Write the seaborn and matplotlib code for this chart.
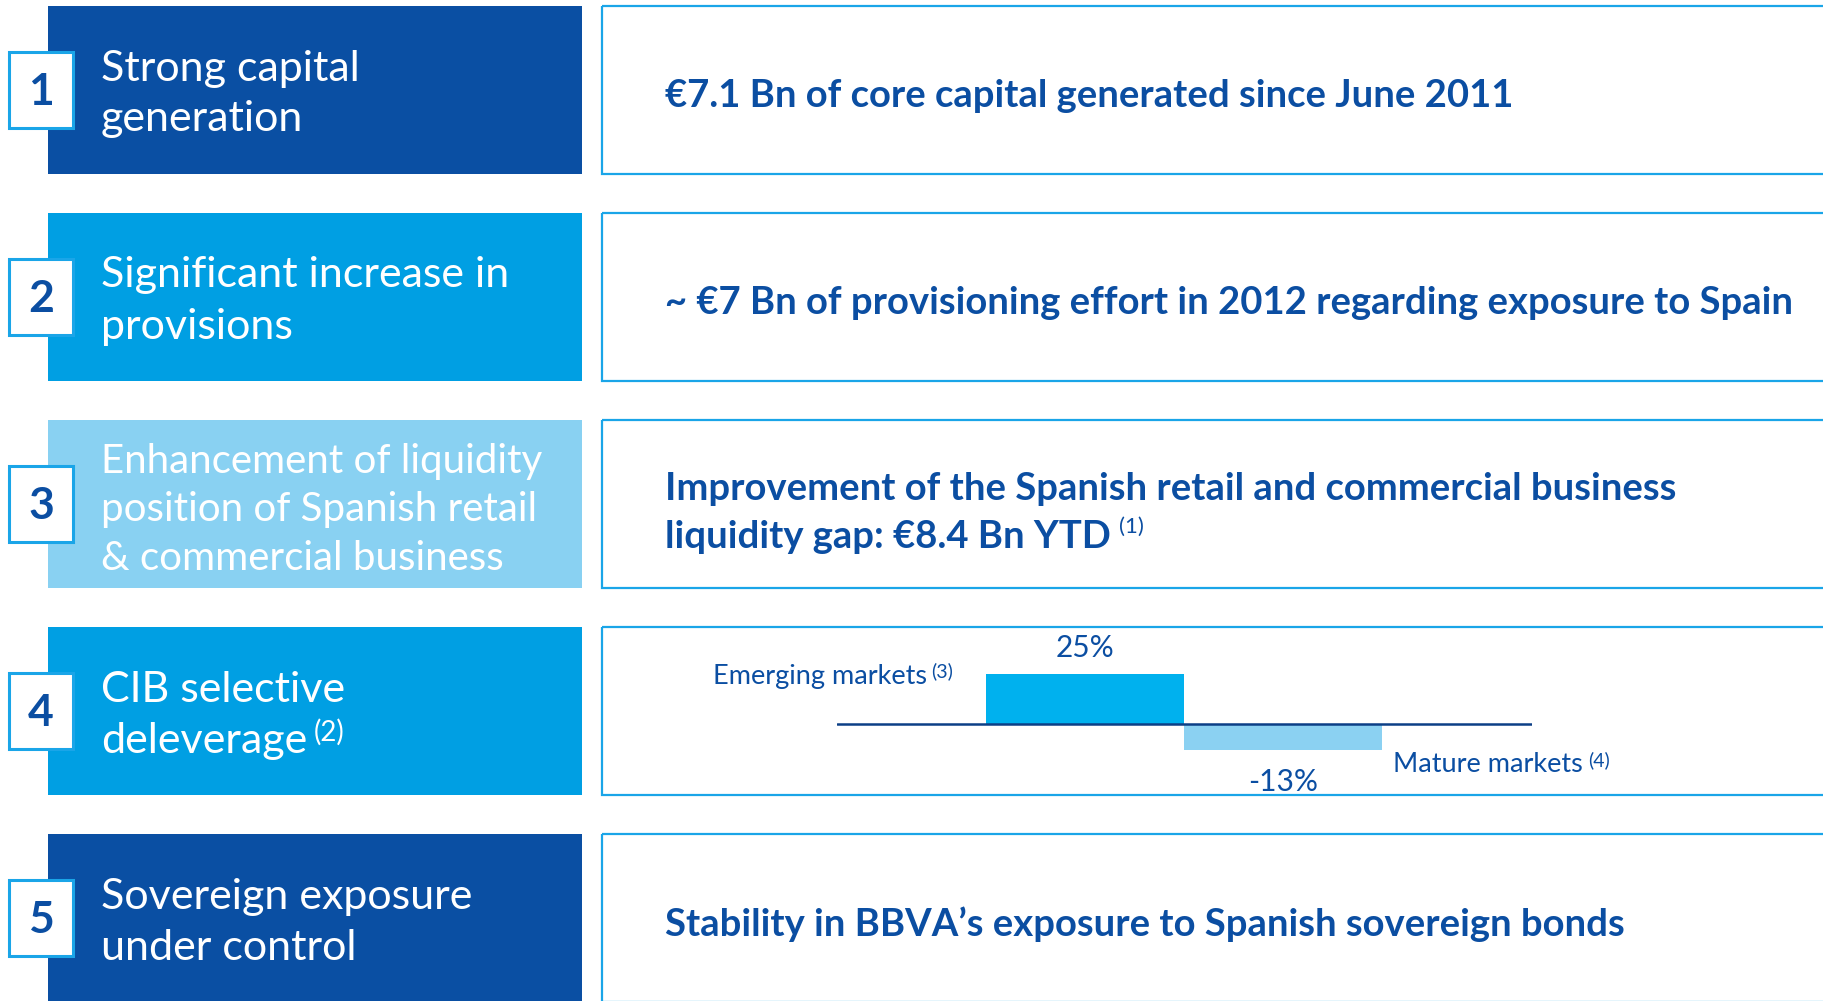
import matplotlib
matplotlib.use("Agg")
import matplotlib.pyplot as plt
from matplotlib.patches import Rectangle
import seaborn as sns

# ---- data ----
numbers = ["1", "2", "3", "4", "5"]
headlines = [
    ["Strong capital", "generation"],
    ["Significant increase in", "provisions"],
    ["Enhancement of liquidity", "position of Spanish retail", "& commercial business"],
    ["CIB selective", "deleverage"],
    ["Sovereign exposure", "under control"],
]
headline_notes = ["", "", "", "(2)", ""]
details = [
    ["€7.1 Bn of core capital generated since June 2011"],
    ["~ €7 Bn of provisioning effort in 2012 regarding exposure to Spain"],
    ["Improvement of the Spanish retail and commercial business",
     "liquidity gap: €8.4 Bn YTD"],
    [],
    ["Stability in BBVA’s exposure to Spanish sovereign bonds"],
]
detail_notes = ["", "", "(1)", "", ""]
markets = ["Emerging markets", "Mature markets"]
market_notes = ["(3)", "(4)"]
growth = [25, -13]

# ---- style ----
sns.set_theme(style="white")
plt.rcParams["font.family"] = ["Lato", "DejaVu Sans"]

navy = "#0B4EA2"
box_colors = ["#0A4FA3", "#009FE3", "#89D1F2", "#009FE3", "#0A4FA3"]
frame_blue = "#1AA5E8"
bar_colors = ["#00B1EE", "#8BD1F2"]

W, H = 1823, 1001
fig = plt.figure(figsize=(W / 100, H / 100), dpi=100)
ax = fig.add_axes([0, 0, 1, 1])
ax.set_xlim(0, W)
ax.set_ylim(H, 0)
ax.axis("off")

pitch, row_h = 207, 168
for i in range(5):
    top = 6 + pitch * i
    mid = top + row_h / 2
    ax.add_patch(Rectangle((48, top), 534, row_h, facecolor=box_colors[i], lw=0))
    ax.add_patch(Rectangle((602, top), 1300, row_h, fill=False,
                           edgecolor=frame_blue, lw=1.6))
    ax.add_patch(Rectangle((9, mid - 38), 64, 76, facecolor="white",
                           edgecolor=frame_blue, lw=2.2, zorder=3))
    ax.text(41, mid + 2, numbers[i], ha="center", va="center", fontsize=32,
            fontweight="bold", color=navy, zorder=4)

    lines = headlines[i]
    three = len(lines) > 2
    lp = 48.5 if three else 51
    for j, line in enumerate(lines):
        y = mid + (6 if three else 4) + (j - (len(lines) - 1) / 2) * lp
        t = ax.text(101, y, line, ha="left", va="center",
                    fontsize=29 if three else 31, color="white")
    if headline_notes[i]:
        ax.annotate(headline_notes[i], xy=(1, 1), xycoords=t, xytext=(5, 2),
                    textcoords="offset points", ha="left", va="top",
                    fontsize=20, color="white")

    dl = details[i]
    for j, line in enumerate(dl):
        y = mid + (9 if len(dl) > 1 else 6) + (j - (len(dl) - 1) / 2) * 47
        t = ax.text(665, y, line, ha="left", va="center", fontsize=27.5,
                    fontweight="bold", color=navy)
    if detail_notes[i]:
        ax.annotate(detail_notes[i], xy=(1, 1), xycoords=t, xytext=(6, 2),
                    textcoords="offset points", ha="left", va="top",
                    fontsize=16, color=navy)

# ---- CIB deleverage bars ----
bax = fig.add_axes([837 / W, 1 - 764 / H, 695 / W, 100 / H])
sns.barplot(x=markets, y=growth, hue=markets, palette=bar_colors,
            saturation=1, width=1.0, linewidth=0, legend=False, ax=bax)
bax.set_xlim(-1.253, 2.257)
bax.set_ylim(-20, 30)
bax.axhline(0, color="#0C3F86", lw=1.8)
bax.axis("off")

for k, v in enumerate(growth):
    off = 13 if v > 0 else -16
    bax.text(k, v + off, f"{v}%", ha="center", va="center", fontsize=21.5,
             color=navy, clip_on=False)

note = bax.text(-0.667, 26.5, market_notes[0], ha="right", va="center",
                fontsize=14, color=navy, clip_on=False)
bax.annotate(markets[0], xy=(0, 0.5), xycoords=note, xytext=(-3, -4),
             textcoords="offset points", ha="right", va="center",
             fontsize=19.5, color=navy)
lab = bax.text(1.556, -20.5, markets[1], ha="left", va="center",
               fontsize=19.5, color=navy, clip_on=False)
bax.annotate(market_notes[1], xy=(1, 1), xycoords=lab, xytext=(4, 1),
             textcoords="offset points", ha="left", va="top",
             fontsize=14, color=navy)

fig.savefig("out.png", dpi=100)
